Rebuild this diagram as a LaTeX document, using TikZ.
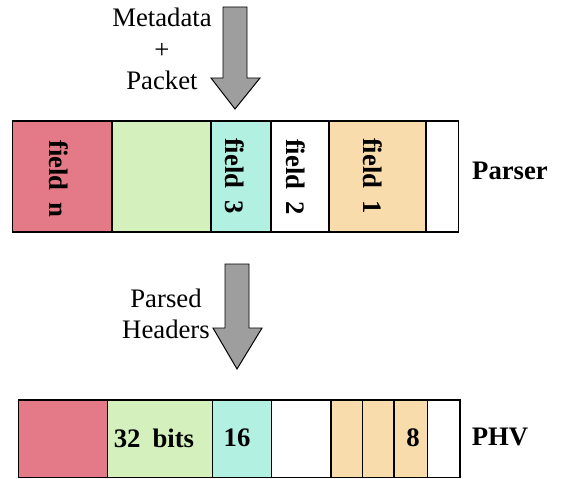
\documentclass[tikz,border=0pt]{standalone}
\usepackage{fontspec}
\setmainfont{Liberation Serif}
\definecolor{fieldred}{HTML}{E47A87}
\definecolor{fieldgreen}{HTML}{D4F0BC}
\definecolor{fieldteal}{HTML}{B2F1E2}
\definecolor{fieldorange}{HTML}{F8DCAC}
\definecolor{arrowgray}{HTML}{9E9E9E}
\newcommand{\wsp}{\hspace{0.45em}}
\tikzset{
  cell/.style={draw=black, line width=0.8pt},
  txt/.style={font=\fontsize{19}{22.5}\selectfont, align=center},
  btxt/.style={font=\bfseries\fontsize{19}{22.5}\selectfont},
  fatarrow/.style={draw=black, line width=0.7pt, fill=arrowgray}
}
\begin{document}
\begin{tikzpicture}[x=0.025cm,y=-0.025cm]
\useasboundingbox (0,0) rectangle (566,479);
% input arrow
\draw[fatarrow] (223,7) -- (247,7) -- (247,78) -- (260,78) -- (235,109) -- (211,78) -- (223,78) -- cycle;
\node[txt] (inp) at (162,49) {Metadata\\+\\Packet};
% parser fields
\draw[cell, fill=fieldred] (12.5,121) rectangle (112,232);
\draw[cell, fill=fieldgreen] (112,121) rectangle (211,232);
\draw[cell, fill=fieldteal] (211,121) rectangle (271,232);
\draw[cell, fill=white] (271,121) rectangle (329,232);
\draw[cell, fill=fieldorange] (329,121) rectangle (426,232);
\draw[cell, fill=white] (426,121) rectangle (458.5,232);
\node[btxt, rotate=-90] (fn) at (59,179) {field\wsp n};
\node[btxt, rotate=-90] (f3) at (235,176) {field\wsp 3};
\node[btxt, rotate=-90] (f2) at (296,177) {field\wsp 2};
\node[btxt, rotate=-90] (f1) at (373,176) {field\wsp 1};
\node[btxt] (parser) at (510,171) {Parser};
% parsed headers arrow
\draw[fatarrow] (225,264) -- (249,264) -- (249,328) -- (262,328) -- (237,369) -- (213,328) -- (225,328) -- cycle;
\node[txt] (hdr) at (166,314) {Parsed\\Headers};
% phv containers
\draw[cell, fill=fieldred] (18.5,400) rectangle (107.5,477.5);
\draw[cell, fill=fieldgreen] (107.5,400) rectangle (212.5,477.5);
\draw[cell, fill=fieldteal] (212.5,400) rectangle (271.5,477.5);
\draw[cell, fill=white] (271.5,400) rectangle (331,477.5);
\draw[cell, fill=fieldorange] (331,400) rectangle (362.5,477.5);
\draw[cell, fill=fieldorange] (362.5,400) rectangle (394,477.5);
\draw[cell, fill=fieldorange] (394,400) rectangle (427.5,477.5);
\draw[cell, fill=white] (427.5,400) rectangle (460,477.5);
\node[btxt] (w32) at (154,438) {32\wsp bits};
\node[btxt] (w16) at (237,438) {16};
\node[btxt] (w8) at (413,438) {8};
\node[btxt] (phv) at (500,437) {PHV};
\end{tikzpicture}
\end{document}
